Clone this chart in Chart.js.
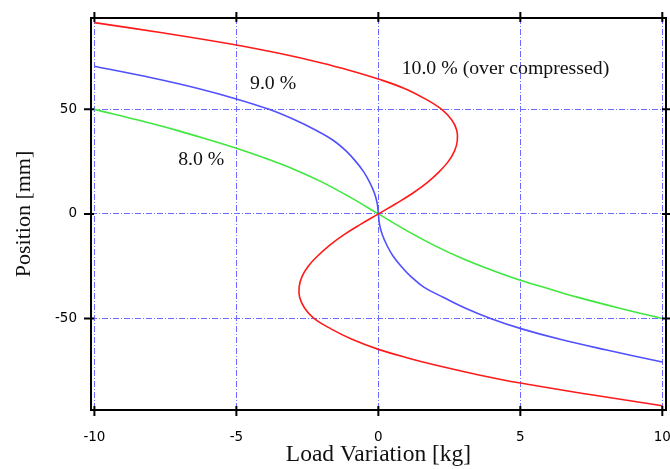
<!DOCTYPE html>
<html>
<head>
<meta charset="utf-8">
<script src="https://cdn.jsdelivr.net/npm/chart.js@4.4.1/dist/chart.umd.min.js"></script>
<style>
  html, body { margin: 0; padding: 0; background: #fff; overflow: hidden; }
  #wrap { width: 670px; height: 469px; position: relative; }
</style>
</head>
<body>
<div id="wrap"><canvas id="c"></canvas></div>
<script>
  // ticks
  var X_TICKS = [-10, -5, 0, 5, 10];
  var Y_TICKS = [-50, 0, 50];

  // 10.0 % (over compressed) - red (top-left to bottom-right)
  var RED_X = [-10, -7.5, -5, -3.5, -2, -1, 0, 0.92, 1.65, 2.23, 2.58, 2.76, 2.78, 2.68, 2.46, 2.13, 1.72, 1.22, 0.63, 0,
               -0.63, -1.22, -1.72, -2.13, -2.47, -2.69, -2.79, -2.77, -2.6, -2.27, -1.67, -0.93, 0,
               1, 2, 3.5, 5, 7.5, 10];
  var RED_Y = [91.5, 86.4, 80.8, 76.8, 72.2, 68.6, 64.5, 60, 55, 50, 45, 40, 35, 30, 25, 20, 15, 10, 5, 0,
               -5, -10, -15, -20, -25, -30, -35, -40, -45, -50, -55, -60, -64.8,
               -68.8, -72.3, -76.9, -80.9, -86.5, -91.8];

  // 9.0 % - blue
  var BLUE_X = [-10, -7.95, -6.35, -5, -3.85, -2.95, -2.2, -1.57, -1.13, -0.79, -0.51, -0.3, -0.14, -0.04, 0,
                0.04, 0.14, 0.3, 0.51, 0.8, 1.15, 1.6, 2.3, 3.05, 3.95, 5.05, 6.4, 8, 10];
  var BLUE_Y = [70.6, 65, 60, 55, 50, 45, 40, 35, 30, 25, 20, 15, 10, 5, 0,
                -5, -10, -15, -20, -25, -30, -35, -40, -45, -50, -55, -60, -65, -70.8];

  // 8.0 % - green
  var GREEN_X = [-10, -8.5, -7, -6, -5, -4, -3, -2, -1, 0, 1, 2, 3, 4, 5, 6, 7, 8.5, 10];
  var GREEN_Y = [50, 45, 39.6, 35.6, 31.4, 26.7, 21.5, 15.3, 8, 0, -8, -15.3, -21.6, -26.9, -31.7, -35.8, -39.8, -45.1, -50];

  // curve labels
  var LABELS = ["10.0 % (over compressed)", "9.0 %", "8.0 %"];
  var LABEL_X = [0.82, -4.52, -7.05];
  var LABEL_Y = [69.2, 62.4, 26];

  function pts(xs, ys) {
    return xs.map(function (x, i) { return { x: x, y: ys[i] }; });
  }

  function line(label, xs, ys, color) {
    return {
      label: label, data: pts(xs, ys), borderColor: color,
      borderWidth: 1.6, pointRadius: 0, tension: 0.4, fill: false
    };
  }

  function fixAxis(size, horiz) {
    return function (s) {
      if (horiz) s.height = size; else s.width = size;
      s.paddingLeft = s.paddingRight = s.paddingTop = s.paddingBottom = 0;
    };
  }

  var frame = {
    id: "frame",
    afterDraw: function (chart) {
      var ctx = chart.ctx, a = chart.chartArea;
      var xs = chart.scales.x, ys = chart.scales.y;
      ctx.save();
      ctx.strokeStyle = "#000";
      ctx.lineWidth = 2;
      ctx.strokeRect(a.left, a.top, a.right - a.left, a.bottom - a.top);
      ctx.beginPath();
      X_TICKS.forEach(function (v) {
        var p = xs.getPixelForValue(v);
        ctx.moveTo(p, a.top - 6); ctx.lineTo(p, a.top + 4);
        ctx.moveTo(p, a.bottom - 4); ctx.lineTo(p, a.bottom + 6);
      });
      Y_TICKS.forEach(function (v) {
        var p = ys.getPixelForValue(v);
        ctx.moveTo(a.left - 7, p); ctx.lineTo(a.left + 3, p);
        ctx.moveTo(a.right - 4, p); ctx.lineTo(a.right + 6, p);
      });
      ctx.stroke();

      ctx.fillStyle = "#111";
      ctx.font = "19.8px 'Liberation Serif', 'Times New Roman', serif";
      ctx.textBaseline = "middle";
      ctx.textAlign = "left";
      LABELS.forEach(function (t, i) {
        ctx.fillText(t, xs.getPixelForValue(LABEL_X[i]), ys.getPixelForValue(LABEL_Y[i]));
      });
      ctx.restore();
    }
  };

  var gridStyle = { color: "#6b6bff", lineWidth: 1, drawTicks: false };
  var dash = { display: false, dash: [6, 2, 1, 2] };
  var tickFont = { family: "'DejaVu Sans', Verdana, sans-serif", size: 13.5 };
  var serif = "'Liberation Serif', 'Times New Roman', serif";

  new Chart(document.getElementById("c"), {
    type: "line",
    data: {
      datasets: [
        line("10.0 %", RED_X, RED_Y, "#ff1a1a"),
        line("9.0 %", BLUE_X, BLUE_Y, "#5050ff"),
        line("8.0 %", GREEN_X, GREEN_Y, "#3ee83e")
      ]
    },
    options: {
      responsive: true,
      maintainAspectRatio: false,
      animation: false,
      devicePixelRatio: 1,
      layout: { padding: { top: 18, right: 4, left: 0, bottom: 0 } },
      plugins: { legend: { display: false }, tooltip: { enabled: false } },
      scales: {
        x: {
          type: "linear", min: -10.12, max: 10.13,
          afterBuildTicks: function (s) { s.ticks = X_TICKS.map(function (v) { return { value: v }; }); },
          afterFit: fixAxis(59, true),
          grid: gridStyle, border: dash,
          ticks: { color: "#000", font: tickFont, padding: 19, maxRotation: 0 },
          title: { display: true, text: "Load Variation [kg]", color: "#111", font: { family: serif, size: 23.5 }, padding: { top: 0, bottom: 0 } }
        },
        y: {
          type: "linear", min: -93.8, max: 93.7,
          afterBuildTicks: function (s) { s.ticks = Y_TICKS.map(function (v) { return { value: v }; }); },
          afterFit: fixAxis(91, false),
          grid: gridStyle, border: dash,
          ticks: { color: "#000", font: tickFont, padding: 14 },
          title: { display: true, text: "Position [mm]", color: "#111", font: { family: serif, size: 22 }, padding: { top: 11, bottom: 0 } }
        }
      }
    },
    plugins: [frame]
  });
</script>
</body>
</html>
